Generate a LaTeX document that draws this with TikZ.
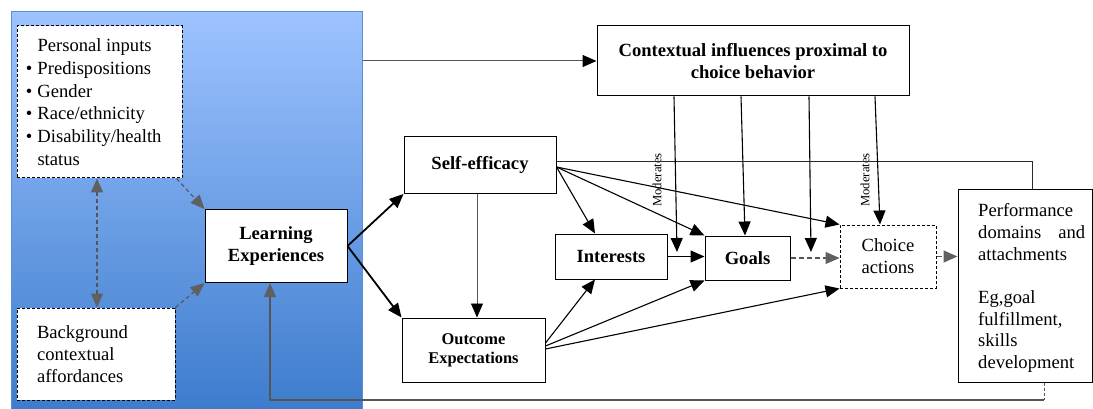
\documentclass[tikz,border=0pt]{standalone}
\usepackage{fontspec}
\setmainfont{Liberation Serif}
\usetikzlibrary{arrows.meta}
\definecolor{paneltop}{HTML}{9DC3FF}
\definecolor{panelbot}{HTML}{3D7CCD}
\definecolor{paneledge}{HTML}{5A8ED6}
\definecolor{grayline}{HTML}{555555}
\definecolor{graytip}{HTML}{606060}
\definecolor{darkline}{HTML}{2A2A2A}
\begin{document}
\begin{tikzpicture}[x=1pt,y=-1pt,
  arr/.style={line width=1.1pt, -{Triangle[length=14pt,width=12pt,color=black]}},
  garr/.style={grayline, line width=1.1pt, -{Triangle[length=14pt,width=12pt,color=graytip]}},
  gdarr/.style={grayline, line width=1.1pt, dashed, dash pattern=on 4pt off 3pt,
    {Triangle[length=14pt,width=12pt,color=graytip]}-{Triangle[length=14pt,width=12pt,color=graytip]}},
  box/.style={draw=black, line width=1pt, fill=white, inner sep=0pt, align=center},
  dbox/.style={box, dashed, dash pattern=on 3pt off 2pt},
  bf/.style={font=\fontsize{18.6}{21.7}\selectfont\bfseries},
  rm/.style={font=\fontsize{18.6}{22}\selectfont},
  modlab/.style={font=\fontsize{12.7}{14}\selectfont, inner sep=0pt, rotate=90}
]
\useasboundingbox (0,0) rectangle (1093,409);

% blue panel
\node[draw=paneledge, line width=1pt, top color=paneltop, bottom color=panelbot,
  minimum width=351, minimum height=397, inner sep=0pt] (panel) at (186.5,210.5) {};

% boxes
\node[dbox, font=\fontsize{18.6}{22.7}\selectfont, align=left, minimum width=165, minimum height=152] (pin) at (99.5,102)
  {Personal inputs\\
   \llap{\textbullet\hspace{5pt}}Predispositions\\
   \llap{\textbullet\hspace{5pt}}Gender\\
   \llap{\textbullet\hspace{5pt}}Race/ethnicity\\
   \llap{\textbullet\hspace{5pt}}Disability/health\\
   status};
\node[dbox, font=\fontsize{18.6}{21.7}\selectfont, align=left, text width=118, inner xsep=20pt, minimum height=92] (bg) at (96,354)
  {Background\\ contextual\\ affordances};
\node[box, bf, minimum width=142, minimum height=73] (le) at (276,246) {Learning\\ Experiences};
\node[box, bf, minimum width=312, minimum height=70] (ctx) at (753,61) {Contextual influences proximal to\\ choice behavior};
\node[box, bf, minimum width=152, minimum height=57] (se) at (480,165) {Self-efficacy};
\node[box, font=\fontsize{16.4}{19.3}\selectfont\bfseries, minimum width=143, minimum height=64] (oe) at (473.5,350) {Outcome\\ Expectations};
\node[box, bf, minimum width=112, minimum height=45] (int) at (611,256.5) {Interests};
\node[box, bf, minimum width=85, minimum height=44] (goals) at (747.5,258) {Goals};
\node[dbox, rm, minimum width=96, minimum height=63] (choice) at (888,256.5) {Choice\\ actions};
\node[box, minimum width=134, minimum height=192] (perf) at (1025,286) {};
\node[font=\fontsize{18.6}{21.7}\selectfont, align=left, inner sep=0pt, anchor=west] (perftext) at (978,288)
  {Performance\\ \makebox[107pt][s]{domains and}\\ attachments\\[21.7pt]
   Eg,goal\\ fulfillment,\\ skills\\ development};

% moderates labels
\node[modlab] (mod1) at (657,180) {Moderates};
\node[modlab] (mod2) at (865,180) {Moderates};

% left panel connectors
\draw[gdarr] ([xshift=-2.5pt]pin.south) -- ([xshift=1pt]bg.north);
\draw[garr, dashed, dash pattern=on 4pt off 3pt] ([xshift=-6pt]pin.south east) -- (le.north west);
\draw[garr, dashed, dash pattern=on 4pt off 3pt] (bg.north east) -- (le.south west);

% panel to context
\draw[grayline, line width=1pt, -{Triangle[length=14pt,width=12pt,color=black]}] (panel.east |- ctx.west) -- (ctx.west);

% learning experiences outputs
\draw[arr, line width=1.8pt] (le.east) -- (se.south west);
\draw[arr, line width=1.8pt] (le.east) -- (oe.north west);

% self-efficacy to outcome expectations
\draw[arr, grayline, line width=0.9pt] ([xshift=-3pt]se.south) -- ([xshift=3.5pt]oe.north);

% self-efficacy outputs
\draw[darkline, line width=1pt] ([yshift=3pt]se.east) -| ([xshift=7pt]perf.north);
\draw[arr] ([yshift=-2pt]se.east) -- ([xshift=-16pt]int.north);
\draw[arr] ([yshift=-2pt]se.east) -- (goals.north west);
\draw[arr] ([yshift=-2pt]se.east) -- (choice.north west);

% outcome expectations outputs
\draw[arr] ([yshift=7pt]oe.east) -- ([xshift=-16pt]int.south);
\draw[arr] ([yshift=4pt]oe.east) -- (goals.south west);
\draw[arr] ([yshift=1pt]oe.east) -- (choice.south west);

% chain
\draw[arr] (int.east) -- (int.east -| goals.west);
\draw[garr, dashed, dash pattern=on 5pt off 3pt] (goals.east) -- (goals.east -| choice.west);
\draw[garr, dashed, dash pattern=on 5pt off 3pt] (choice.east) -- (choice.east -| perf.west);

% moderating arrows from context
\coordinate (m1) at (677,252);
\coordinate (m3) at (811,252);
\draw[arr] ([xshift=-79pt]ctx.south) -- (m1);
\draw[arr] ([xshift=-12pt]ctx.south) -- ([xshift=-2.5pt]goals.north);
\draw[arr] ([xshift=56pt]ctx.south) -- (m3);
\draw[arr] ([xshift=122pt]ctx.south) -- ([xshift=-8pt]choice.north);

% feedback loop
\coordinate (fb1) at (1044,400);
\coordinate (fb2) at (270,400);
\draw[grayline, line width=1pt, dashed, dash pattern=on 3pt off 2pt] ([xshift=19pt]perf.south) -- (fb1);
\draw[garr, line width=1.3pt] (fb1) -- (fb2) -- (le.south -| fb2);
\end{tikzpicture}
\end{document}
